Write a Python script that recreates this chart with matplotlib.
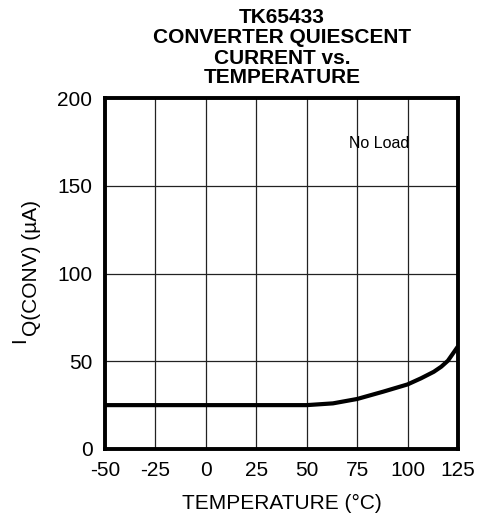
import matplotlib.pyplot as plt

plt.rcParams["font.family"] = ["Liberation Sans", "DejaVu Sans"]

# curve
temp = [-50, -25, 0, 25, 50, 63, 75, 88, 100, 106.7, 113, 116.7, 120, 125]
iq = [25, 25, 25, 25, 25, 26, 28.5, 32.7, 36.8, 40.3, 44, 46.9, 50.3, 58.5]

xticks = [-50, -25, 0, 25, 50, 75, 100, 125]
yticks = [0, 50, 100, 150, 200]
title_lines = ["TK65433", "CONVERTER QUIESCENT", "CURRENT vs.", "TEMPERATURE"]

W, H = 486, 518
fig = plt.figure(figsize=(W / 100, H / 100), dpi=100)
ax = fig.add_axes([105 / W, 1 - 449 / H, 353 / W, 351 / H])

ax.plot(temp, iq, color="black", lw=3, solid_capstyle="butt", zorder=3)
ax.set_xlim(-50, 125)
ax.set_ylim(0, 200)
ax.set_xticks(xticks)
ax.set_yticks(yticks)
ax.set_xticklabels([str(t) for t in xticks], fontsize=15)
ax.set_yticklabels([str(t) for t in yticks], fontsize=15)
ax.tick_params(axis="x", length=0, pad=9)
ax.tick_params(axis="y", length=0, pad=9)
ax.grid(True, color="#222222", lw=0.9)
for s in ax.spines.values():
    s.set_linewidth(2.8)

ax.text(86, 173.8, "No Load", fontsize=11.5, ha="center", va="center")
ax.set_xlabel("TEMPERATURE (°C)", fontsize=15, labelpad=10)

# y label: I with a lowered Q(CONV) subscript, drawn as two rotated pieces
fig.text(25 / W, 1 - 343 / H, "I", fontsize=14.5, rotation=90,
         rotation_mode="anchor", ha="left", va="baseline")
fig.text(37 / W, 1 - 336 / H, "Q(CONV) (µA)", fontsize=15, rotation=90,
         rotation_mode="anchor", ha="left", va="baseline")

for line, base in zip(title_lines, [23, 43, 64, 83]):
    fig.text(282 / W, 1 - base / H, line, ha="center", va="baseline",
             fontsize=15, fontweight="bold")

fig.savefig("out.png", dpi=100)
